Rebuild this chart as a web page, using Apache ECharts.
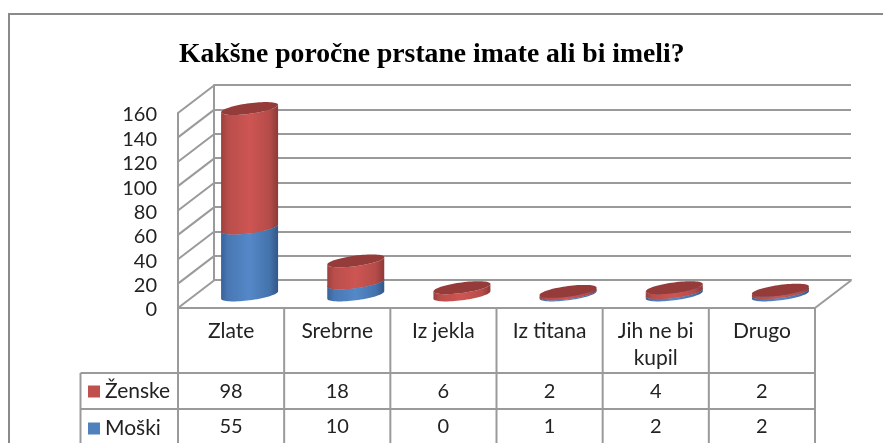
<!DOCTYPE html>
<html><head><meta charset="utf-8">
<style>html,body{margin:0;padding:0;background:#fff}#c{width:883px;height:443px}</style>
<script src="https://cdn.jsdelivr.net/npm/echarts@6/dist/echarts.min.js"></script>
</head><body><div id="c"></div>
<script>
const titleText = 'Kakšne poročne prstane imate ali bi imeli?';
const categories = ['Zlate', 'Srebrne', 'Iz jekla', 'Iz titana', 'Jih ne bi\nkupil', 'Drugo'];
const zenske = [98, 18, 6, 2, 4, 2];
const moski = [55, 10, 0, 1, 2, 2];
const yTicks = [0, 20, 40, 60, 80, 100, 120, 140, 160];

const FONT = 'Lato, "Open Sans", sans-serif';
const LINE = '#9a9a9a';
const DEPTH = [36, -27.5];           // front plane to back wall
const MID = [18.5, -13];             // front plane to cylinder axis
const RX = 28.5, RY = 5.3, SKEW = 3.7;
const ROWS = [373, 409, 445];        // table row bottoms

function grad(stops) {
  return { type: 'linear', x: 0, y: 0, x2: 1, y2: 0,
    colorStops: stops.map(s => ({ offset: s[0], color: s[1] })) };
}
const RED_BODY = grad([[0,'#9c403e'],[0.12,'#b94e4b'],[0.5,'#cd5552'],[0.85,'#b54c49'],[1,'#8d3937']]);
const BLUE_BODY = grad([[0,'#38629a'],[0.12,'#4978b4'],[0.5,'#5488c8'],[0.85,'#4473ab'],[1,'#31578a']]);

function arc(cx, cy, from, to, n) {
  const pts = [];
  for (let i = 0; i <= n; i++) {
    const t = from + (to - from) * i / n;
    pts.push([cx + RX * Math.cos(t), cy + RY * Math.sin(t) - SKEW * Math.cos(t)]);
  }
  return pts;
}
function cylinder(api, cat, lo, hi, body, top) {
  if (hi <= lo) return { type: 'group', children: [] };
  const a = api.coord([cat, lo]), b = api.coord([cat, hi]);
  const cx = a[0] + MID[0], y0 = a[1] + MID[1], y1 = b[1] + MID[1];
  const lower = arc(cx, y0, Math.PI, 0, 36);
  const upperBack = arc(cx, y1, 0, Math.PI, 36);
  return { type: 'group', children: [
    { type: 'polygon', shape: { points: lower.concat(upperBack) }, style: { fill: body } },
    { type: 'polygon', shape: { points: arc(cx, y1, 0, 2 * Math.PI, 72) }, style: { fill: top } }
  ]};
}
function segment(x1, y1, x2, y2, w) {
  return { type: 'line', shape: { x1, y1, x2, y2 },
    style: { stroke: LINE, lineWidth: w || 2, fill: null } };
}

const option = {
  animation: false,
  backgroundColor: '#fff',
  title: { text: titleText, left: 179, top: 41, padding: 0,
    textStyle: { fontFamily: '"Liberation Serif", serif', fontWeight: 'bold', fontSize: 27.7, color: '#000' } },
  legend: { orient: 'vertical', left: 88, top: 381, padding: 0, itemWidth: 12, itemHeight: 12, itemGap: 16,
    selectedMode: false, icon: 'rect', data: ['Ženske', 'Moški'],
    textStyle: { fontFamily: FONT, fontSize: 21, color: '#222', lineHeight: 20 } },
  grid: [
    { left: 178, right: 68, top: 113, bottom: 135 },
    { left: 214, right: 32, top: 85, bottom: 163 }
  ],
  xAxis: [
    { type: 'category', gridIndex: 0, data: categories,
      axisTick: { show: false },
      axisLine: { show: true, lineStyle: { color: LINE, width: 2 } },
      axisLabel: { fontFamily: FONT, fontSize: 21, color: '#222', lineHeight: 27, margin: 10, interval: 0 } },
    { type: 'category', gridIndex: 1, data: categories, axisTick: { show: false }, axisLabel: { show: false },
      axisLine: { show: true, lineStyle: { color: LINE, width: 2 } } }
  ],
  yAxis: [
    { type: 'value', gridIndex: 0, min: 0, max: 160, interval: 20, splitLine: { show: false },
      axisTick: { show: false },
      axisLine: { show: true, lineStyle: { color: LINE, width: 2 } },
      axisLabel: { margin: 21, formatter: '{n|{value}}',
        rich: { n: { fontFamily: FONT, fontSize: 20, color: '#222', padding: [4, 0, 0, 0] } } } },
    { type: 'value', gridIndex: 1, min: 0, max: 160, interval: 20, axisTick: { show: false }, axisLabel: { show: false },
      axisLine: { show: true, lineStyle: { color: LINE, width: 2 } },
      splitLine: { show: true, lineStyle: { color: LINE, width: 2 } } }
  ],
  series: [
    { type: 'custom', name: 'walls', xAxisIndex: 0, yAxisIndex: 0, silent: true, z: 1,
      data: yTicks,
      renderItem(params, api) {
        const cs = params.coordSys, y = api.coord([0, api.value(0)])[1];
        const kids = [segment(cs.x, y, cs.x + DEPTH[0], y + DEPTH[1])];
        if (api.value(0) === 0) {
          kids.push(segment(cs.x + cs.width, y, cs.x + cs.width + DEPTH[0], y + DEPTH[1]));
        }
        return { type: 'group', children: kids };
      },
      encode: { y: 0 }
    },
    { type: 'custom', name: 'Moški', xAxisIndex: 0, yAxisIndex: 0, silent: true, z: 3,
      itemStyle: { color: '#4f81bd' },
      data: moski.map((v, i) => [i, v]),
      renderItem(params, api) {
        return cylinder(api, api.value(0), 0, api.value(1), BLUE_BODY, '#3f6da3');
      }
    },
    { type: 'custom', name: 'Ženske', xAxisIndex: 0, yAxisIndex: 0, silent: true, z: 4,
      itemStyle: { color: '#c0504d' },
      data: zenske.map((v, i) => [i, v, moski[i]]),
      renderItem(params, api) {
        const base = api.value(2);
        return cylinder(api, api.value(0), base, base + api.value(1), RED_BODY, '#953c3a');
      }
    },
    { type: 'custom', name: 'table', xAxisIndex: 0, yAxisIndex: 0, silent: true, z: 5,
      data: categories.map((c, i) => [i, zenske[i], moski[i]]),
      renderItem(params, api) {
        const cs = params.coordSys, cat = api.value(0);
        const xc = api.coord([cat, 0])[0], w = cs.width / categories.length;
        const bottom = cs.y + cs.height;
        const txt = (t, y) => ({ type: 'text', style: { text: String(t), x: xc, y, align: 'center', verticalAlign: 'middle',
          font: '20px ' + FONT, fill: '#222' } });
        const kids = [
          segment(xc + w / 2, bottom, xc + w / 2, ROWS[2]),
          txt(api.value(1), (ROWS[0] + ROWS[1]) / 2 + 1),
          txt(api.value(2), (ROWS[1] + ROWS[2]) / 2)
        ];
        if (cat === 0) {
          const left = cs.x, right = cs.x + cs.width, legendL = 80.5;
          kids.push(segment(left, bottom, left, ROWS[2]));
          kids.push(segment(legendL, ROWS[0], right, ROWS[0]));
          kids.push(segment(legendL, ROWS[1], right, ROWS[1]));
          kids.push(segment(legendL, ROWS[0], legendL, ROWS[2]));
        }
        return { type: 'group', children: kids };
      }
    }
  ],
  graphic: [
    { type: 'polyline', silent: true, z: 10,
      shape: { points: [[9, 443], [9, 14], [883, 14]] },
      style: { stroke: '#8a8a8a', lineWidth: 2, fill: null } }
  ]
};
const chart = echarts.init(document.getElementById('c'), null, { renderer: 'canvas' });
chart.setOption(option);
</script></body></html>
